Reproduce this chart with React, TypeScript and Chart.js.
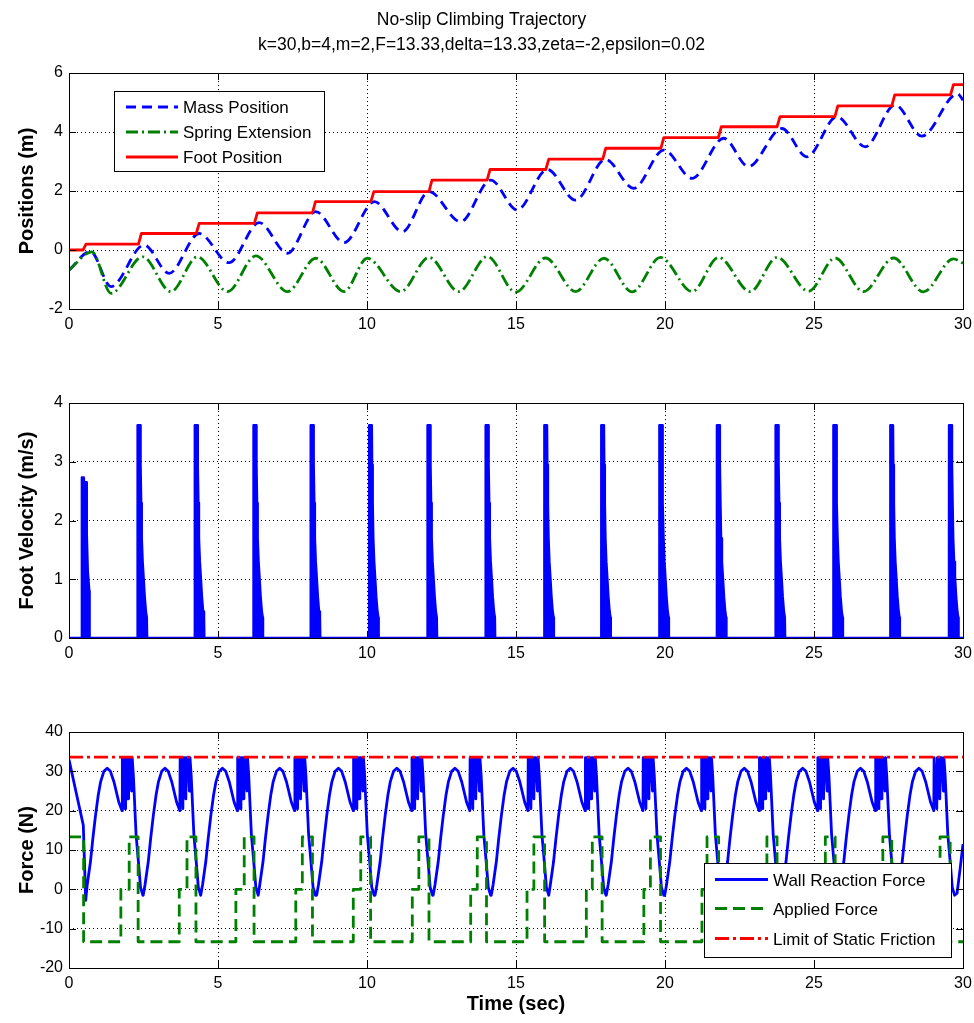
import React, { useEffect, useRef } from 'react';
import { Chart, registerables } from 'chart.js';

Chart.register(...registerables);

// ---------------- data ----------------
const titleLines = ['No-slip Climbing Trajectory', 'k=30,b=4,m=2,F=13.33,delta=13.33,zeta=-2,epsilon=0.02'];

// Plot 1: positions
const massT = [0, 0.72, 1.41, 2.52, 3.36, 4.37, 5.37, 6.38, 7.33, 8.28, 9.23, 10.25, 11.19, 12.08, 13.14, 14.15, 15.04, 16.05, 17.0, 18.0, 18.95, 19.96, 20.91, 21.97, 22.8, 23.92, 24.76, 25.77, 26.72, 27.72, 28.62, 29.82, 30];
const massV = [-0.68, -0.05, -1.24, 0.17, -0.79, 0.56, -0.43, 0.93, -0.11, 1.3, 0.25, 1.64, 0.62, 1.98, 0.96, 2.37, 1.36, 2.73, 1.69, 3.07, 2.09, 3.39, 2.43, 3.79, 2.83, 4.12, 3.16, 4.52, 3.5, 4.92, 3.86, 5.3, 5.08];

const springT = [0, 0.77, 1.41, 2.47, 3.42, 4.31, 5.32, 6.27, 7.33, 8.28, 9.23, 10.01, 11.13, 12.08, 13.08, 14.04, 14.99, 15.99, 17.0, 17.95, 18.9, 19.85, 20.91, 21.8, 22.86, 23.76, 24.82, 25.71, 26.66, 27.67, 28.67, 29.68, 30];
const springV = [-0.68, -0.06, -1.47, -0.23, -1.41, -0.23, -1.41, -0.2, -1.41, -0.28, -1.41, -0.28, -1.41, -0.25, -1.41, -0.22, -1.43, -0.27, -1.41, -0.28, -1.42, -0.25, -1.41, -0.25, -1.41, -0.25, -1.4, -0.27, -1.41, -0.27, -1.42, -0.3, -0.45];

const footStepT = [0.47, 2.33, 4.27, 6.22, 8.17, 10.13, 12.08, 14.03, 16.0, 17.91, 19.86, 21.79, 23.76, 25.7, 27.61, 29.58];
const footLevel = [0, 0.2, 0.56, 0.9, 1.26, 1.64, 1.98, 2.37, 2.73, 3.08, 3.45, 3.81, 4.18, 4.52, 4.89, 5.26, 5.61];
const footStepDuration = 0.1;

// Plot 2: foot velocity spikes
const velStartT = [0.43, 2.3, 4.22, 6.19, 8.11, 10.07, 12.03, 13.98, 15.95, 17.86, 19.81, 21.74, 23.71, 25.65, 27.56, 29.53];
const firstSpikeOffsets = [0, 0.003, 0.065, 0.075, 0.145, 0.165, 0.2, 0.25, 0.26];
const firstSpikeValues = [0, 2.73, 2.73, 2.65, 2.65, 1.78, 1.13, 0.8, 0];
const spikeOffsets = [0, 0.003, 0.09, 0.1, 0.12, 0.14, 0.17, 0.2, 0.24, 0.28, 0.31, 0.32];
const spikeValues = [0, 3.62, 3.62, 2.95, 2.3, 1.7, 1.3, 1.05, 0.7, 0.45, 0.35, 0];

// Plot 3: forces
const wallHeadT = [0, 0.26, 0.48, 0.56];
const wallHeadV = [33, 23.9, 16.3, -2.8];
const wallPeakT = [1.28, 3.22, 5.15, 7.07, 9.04, 11.0, 12.95, 14.9, 16.82, 18.76, 20.72, 22.66, 24.62, 26.56, 28.52];
const wallCycleOffsets = [-0.73, -0.67, -0.56, -0.48, -0.39, -0.3, -0.22, -0.11, 0, 0.11, 0.23, 0.39, 0.5, 0.51, 0.54, 0.6, 0.62, 0.65, 0.7, 0.72, 0.76, 0.82, 0.84, 0.88, 0.97, 1.05, 1.12, 1.2];
const wallCycleValues = [-1.5, 1.1, 7, 12.9, 18.8, 23.9, 27.3, 30, 30.8, 30, 27.3, 22.2, 20, 33.5, 33.5, 20.5, 33.5, 33.5, 23, 33.5, 33.5, 25, 33.5, 29, 14, 7, 0.5, -1.5];
const wallTailT = [29.8, 29.9, 30];
const wallTailV = [-1, 5, 11.5];

const appliedT = [0, 0.49, 1.74, 2.02, 2.32, 3.7, 3.96, 4.26, 5.6, 5.88, 6.21, 7.61, 7.83, 8.17, 9.54, 9.79, 10.12, 11.52, 11.74, 12.08, 13.48, 13.7, 14.01, 15.37, 15.6, 15.96, 17.36, 17.56, 17.89, 19.29, 19.51, 19.85, 21.24, 21.41, 21.8, 23.2, 23.42, 23.76, 25.15, 25.38, 25.71, 27.1, 27.31, 27.61, 29.0, 29.23, 29.57, 30];
const appliedV = [13.33,
  -13.33, 0, 13.33, -13.33, 0, 13.33, -13.33, 0, 13.33, -13.33, 0, 13.33, -13.33, 0, 13.33,
  -13.33, 0, 13.33, -13.33, 0, 13.33, -13.33, 0, 13.33, -13.33, 0, 13.33, -13.33, 0, 13.33,
  -13.33, 0, 13.33, -13.33, 0, 13.33, -13.33, 0, 13.33, -13.33, 0, 13.33, -13.33, 0, 13.33,
  -13.33, -13.33];
const frictionT = [0, 30];
const frictionV = [33.6, 33.6];

// axes
const xRange = [0, 30];
const xStep = 5;
const posRange = [-2, 6];
const posStep = 2;
const velRange = [0, 4];
const velStep = 1;
const forceRange = [-20, 40];
const forceStep = 10;

// ---------------- helpers ----------------
const FONT = "'Liberation Sans', Arial, Helvetica, sans-serif";
const BLUE = '#0000ff';
const GREEN = '#008000';
const RED = '#ff0000';
const LW = 2.8;

const pts = (t: number[], v: number[]) => t.map((x, i) => ({ x, y: v[i] }));

function buildFoot() {
  const d = [{ x: 0, y: footLevel[0] }];
  footStepT.forEach((s, i) => {
    d.push({ x: s, y: footLevel[i] });
    d.push({ x: s + footStepDuration, y: footLevel[i + 1] });
  });
  d.push({ x: 30, y: footLevel[footLevel.length - 1] });
  return d;
}

function buildVelocity() {
  const d = [{ x: 0, y: 0 }];
  velStartT.forEach((s, i) => {
    const offs = i === 0 ? firstSpikeOffsets : spikeOffsets;
    const vals = i === 0 ? firstSpikeValues : spikeValues;
    offs.forEach((o, j) => d.push({ x: s + o, y: vals[j] }));
  });
  d.push({ x: 30, y: 0 });
  return d;
}

function buildWall() {
  const d = pts(wallHeadT, wallHeadV);
  wallPeakT.forEach((p) => {
    wallCycleOffsets.forEach((o, j) => {
      const t = p + o;
      if (t > d[d.length - 1].x && t < wallTailT[0]) d.push({ x: t, y: wallCycleValues[j] });
    });
  });
  pts(wallTailT, wallTailV).forEach((q) => d.push(q));
  return d;
}

type LegendItem = { label: string; color: string; dash: number[] };
type LegendSpec = {
  items: LegendItem[];
  left: number; top: number; width: number; height: number;
  rowY: number[]; lineX0: number; lineX1: number; textX: number;
};

function framePlugin(legend?: LegendSpec) {
  return {
    id: 'matlabFrame',
    afterDatasetsDraw(chart: any) {
      const { ctx, chartArea: a, scales } = chart;
      const TL = 7;
      ctx.save();
      ctx.setLineDash([]);
      ctx.strokeStyle = '#000';
      ctx.lineWidth = 1;
      ctx.beginPath();
      scales.x.ticks.forEach((t: any) => {
        const px = Math.round(scales.x.getPixelForValue(t.value)) + 0.5;
        ctx.moveTo(px, a.top); ctx.lineTo(px, a.top + TL);
        ctx.moveTo(px, a.bottom); ctx.lineTo(px, a.bottom - TL);
      });
      scales.y.ticks.forEach((t: any) => {
        const py = Math.round(scales.y.getPixelForValue(t.value)) + 0.5;
        ctx.moveTo(a.left, py); ctx.lineTo(a.left + TL, py);
        ctx.moveTo(a.right, py); ctx.lineTo(a.right - TL, py);
      });
      ctx.stroke();
      ctx.strokeRect(Math.round(a.left) + 0.5, Math.round(a.top) + 0.5, Math.round(a.right - a.left), Math.round(a.bottom - a.top));

      if (legend) {
        ctx.fillStyle = '#fff';
        ctx.fillRect(legend.left, legend.top, legend.width, legend.height);
        ctx.strokeStyle = '#000';
        ctx.lineWidth = 1;
        ctx.strokeRect(legend.left + 0.5, legend.top + 0.5, legend.width, legend.height);
        legend.items.forEach((it, i) => {
          const y = legend.rowY[i];
          ctx.save();
          ctx.strokeStyle = it.color;
          ctx.lineWidth = LW;
          ctx.setLineDash(it.dash);
          ctx.beginPath();
          ctx.moveTo(legend.lineX0, y);
          ctx.lineTo(legend.lineX1, y);
          ctx.stroke();
          ctx.restore();
          ctx.fillStyle = '#000';
          ctx.font = `17px ${FONT}`;
          ctx.textBaseline = 'middle';
          ctx.textAlign = 'left';
          ctx.fillText(it.label, legend.textX, y + 1.5);
        });
      }
      ctx.restore();
    },
  };
}

function makeConfig(o: {
  datasets: any[]; yRange: number[]; yStep: number; yTitle: string;
  xTitle?: string; xHeight: number; padTop: number; title?: string[]; legend?: LegendSpec;
}) {
  const gridOpts = { color: '#000', lineWidth: 1, drawTicks: false };
  const borderOpts = { display: false, dash: [1, 3] };
  return {
    type: 'line',
    data: { datasets: o.datasets },
    options: {
      responsive: false,
      maintainAspectRatio: false,
      animation: false,
      events: [],
      layout: { padding: { top: o.padTop, right: 11, bottom: 0, left: 0 } },
      elements: { point: { radius: 0 }, line: { tension: 0, borderCapStyle: 'butt', borderJoinStyle: 'round' } },
      plugins: {
        legend: { display: false },
        tooltip: { enabled: false },
        title: o.title
          ? {
              display: true,
              text: o.title,
              color: '#000',
              font: { family: FONT, size: 17.5, weight: 'normal', lineHeight: 1.43 },
              padding: { top: 7.5, bottom: 15.5 },
            }
          : { display: false },
      },
      scales: {
        x: {
          type: 'linear',
          min: xRange[0],
          max: xRange[1],
          ticks: { stepSize: xStep, color: '#000', font: { family: FONT, size: 16 }, padding: 6, maxRotation: 0, autoSkip: false },
          grid: gridOpts,
          border: borderOpts,
          title: o.xTitle
            ? { display: true, text: o.xTitle, color: '#000', font: { family: FONT, size: 20, weight: 'bold' }, padding: { top: 0, bottom: 7 } }
            : { display: false },
          afterFit: (s: any) => {
            s.height = o.xHeight;
            s.paddingLeft = 0;
            s.paddingRight = 0;
          },
        },
        y: {
          type: 'linear',
          min: o.yRange[0],
          max: o.yRange[1],
          ticks: { stepSize: o.yStep, color: '#000', font: { family: FONT, size: 16 }, padding: 6 },
          grid: gridOpts,
          border: borderOpts,
          title: { display: true, text: o.yTitle, color: '#000', font: { family: FONT, size: 20, weight: 'bold' }, padding: { top: 15, bottom: 0 } },
          afterFit: (s: any) => {
            s.width = 69;
            s.paddingTop = 0;
            s.paddingBottom = 0;
          },
        },
      },
    },
    plugins: [framePlugin(o.legend)],
  };
}

function Plot({ top, height, config }: { top: number; height: number; config: any }) {
  const ref = useRef<HTMLCanvasElement>(null);
  useEffect(() => {
    const chart = new Chart(ref.current as HTMLCanvasElement, config);
    return () => chart.destroy();
  }, []);
  return (
    <canvas
      ref={ref}
      width={974}
      height={height}
      style={{ position: 'absolute', left: 0, top, width: 974, height, display: 'block' }}
    />
  );
}

export default function App() {
  const cfg1 = makeConfig({
    title: titleLines,
    padTop: 0,
    xHeight: 31,
    yRange: posRange,
    yStep: posStep,
    yTitle: 'Positions (m)',
    datasets: [
      { label: 'Mass Position', data: pts(massT, massV), borderColor: BLUE, borderWidth: LW, borderDash: [10, 6], cubicInterpolationMode: 'monotone', order: 3 },
      { label: 'Spring Extension', data: pts(springT, springV), borderColor: GREEN, borderWidth: LW, borderDash: [12, 4, 2, 4], cubicInterpolationMode: 'monotone', order: 2 },
      { label: 'Foot Position', data: buildFoot(), borderColor: RED, borderWidth: LW, order: 1 },
    ],
    legend: {
      items: [
        { label: 'Mass Position', color: BLUE, dash: [10, 6] },
        { label: 'Spring Extension', color: GREEN, dash: [12, 4, 2, 4] },
        { label: 'Foot Position', color: RED, dash: [] },
      ],
      left: 114, top: 91, width: 210, height: 80,
      rowY: [107, 132, 157], lineX0: 126, lineX1: 178, textX: 183,
    },
  });
  const cfg2 = makeConfig({
    padTop: 63,
    xHeight: 32,
    yRange: velRange,
    yStep: velStep,
    yTitle: 'Foot Velocity (m/s)',
    datasets: [
      { label: 'Foot Velocity', data: buildVelocity(), borderColor: BLUE, backgroundColor: BLUE, borderWidth: 2.5, fill: 'origin' },
    ],
  });
  const cfg3 = makeConfig({
    padTop: 62,
    xHeight: 55,
    xTitle: 'Time (sec)',
    yRange: forceRange,
    yStep: forceStep,
    yTitle: 'Force (N)',
    datasets: [
      { label: 'Wall Reaction Force', data: buildWall(), borderColor: BLUE, borderWidth: LW, order: 3 },
      { label: 'Applied Force', data: pts(appliedT, appliedV), borderColor: GREEN, borderWidth: LW, borderDash: [12, 6], stepped: 'before', order: 2 },
      { label: 'Limit of Static Friction', data: pts(frictionT, frictionV), borderColor: RED, borderWidth: LW, borderDash: [14, 4, 3, 4], order: 1 },
    ],
    legend: {
      items: [
        { label: 'Wall Reaction Force', color: BLUE, dash: [] },
        { label: 'Applied Force', color: GREEN, dash: [12, 6] },
        { label: 'Limit of Static Friction', color: RED, dash: [14, 4, 3, 4] },
      ],
      left: 704, top: 193, width: 247, height: 94,
      rowY: [209.5, 238.5, 268.5], lineX0: 715, lineX1: 768, textX: 773,
    },
  });

  return (
    <div style={{ position: 'absolute', left: 0, top: 0, width: 974, height: 1023, background: '#fff', overflow: 'hidden' }}>
      <Plot top={0} height={340} config={cfg1} />
      <Plot top={340} height={330} config={cfg2} />
      <Plot top={670} height={353} config={cfg3} />
    </div>
  );
}
